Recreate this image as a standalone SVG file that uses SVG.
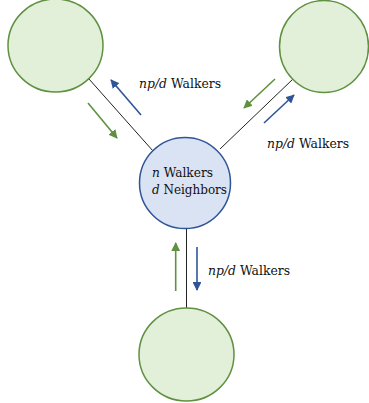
<svg xmlns="http://www.w3.org/2000/svg" width="369" height="403" viewBox="0 0 369 403">
<style>
.nb{fill:#e2efd9;stroke:#5f9140;stroke-width:1.5}
.nc{fill:#dae3f3;stroke:#2f5597;stroke-width:1.5}
.ln{stroke:#222;stroke-width:1;fill:none}
.ag{stroke:#5f9140;stroke-width:1.6;fill:none;marker-end:url(#hg)}
.ab{stroke:#2f5597;stroke-width:1.6;fill:none;marker-end:url(#hb)}
.t{font-family:'DejaVu Serif','Liberation Serif',serif;font-size:13.5px;fill:#111}
</style>
<defs>
<marker id="hg" viewBox="0 0 10 10" refX="9" refY="5" markerWidth="5.5" markerHeight="5.5" orient="auto" markerUnits="strokeWidth"><path d="M0,0L10,5L0,10z" fill="#5f9140"/></marker>
<marker id="hb" viewBox="0 0 10 10" refX="9" refY="5" markerWidth="5.5" markerHeight="5.5" orient="auto" markerUnits="strokeWidth"><path d="M0,0L10,5L0,10z" fill="#2f5597"/></marker>
</defs>
<g id="connectors">
<line class="ln" x1="89" y1="79" x2="153" y2="151"/>
<line class="ln" x1="293" y1="79" x2="220" y2="149"/>
<line class="ln" x1="186.5" y1="229" x2="186.5" y2="308"/>
<line class="ab" x1="141" y1="115" x2="111" y2="80"/>
<line class="ag" x1="88" y1="103" x2="117" y2="138"/>
<line class="ag" x1="275" y1="79" x2="244" y2="108"/>
<line class="ab" x1="264" y1="123" x2="294" y2="95"/>
<line class="ag" x1="175.7" y1="291" x2="175.7" y2="243"/>
<line class="ab" x1="197" y1="247" x2="197" y2="290"/>
</g>
<g id="node-top-left"><ellipse class="nb" cx="55.5" cy="45.5" rx="47.5" ry="46.5"/></g>
<g id="node-top-right"><ellipse class="nb" cx="324" cy="46.5" rx="44.5" ry="46"/></g>
<g id="node-bottom"><ellipse class="nb" cx="186.5" cy="354.5" rx="47.5" ry="46.5"/></g>
<g id="node-center"><circle class="nc" cx="185" cy="183" r="45.5"/>
<text class="t" x="152" y="177" textLength="61" lengthAdjust="spacingAndGlyphs"><tspan font-style="italic">n</tspan> Walkers</text>
<text class="t" x="152" y="194" textLength="75" lengthAdjust="spacingAndGlyphs"><tspan font-style="italic">d</tspan> Neighbors</text>
</g>
<g id="labels">
<text class="t" x="139" y="88" textLength="82" lengthAdjust="spacingAndGlyphs"><tspan font-style="italic">np/d</tspan> Walkers</text>
<text class="t" x="267" y="148" textLength="82" lengthAdjust="spacingAndGlyphs"><tspan font-style="italic">np/d</tspan> Walkers</text>
<text class="t" x="208" y="275" textLength="82" lengthAdjust="spacingAndGlyphs"><tspan font-style="italic">np/d</tspan> Walkers</text>
</g>
</svg>
